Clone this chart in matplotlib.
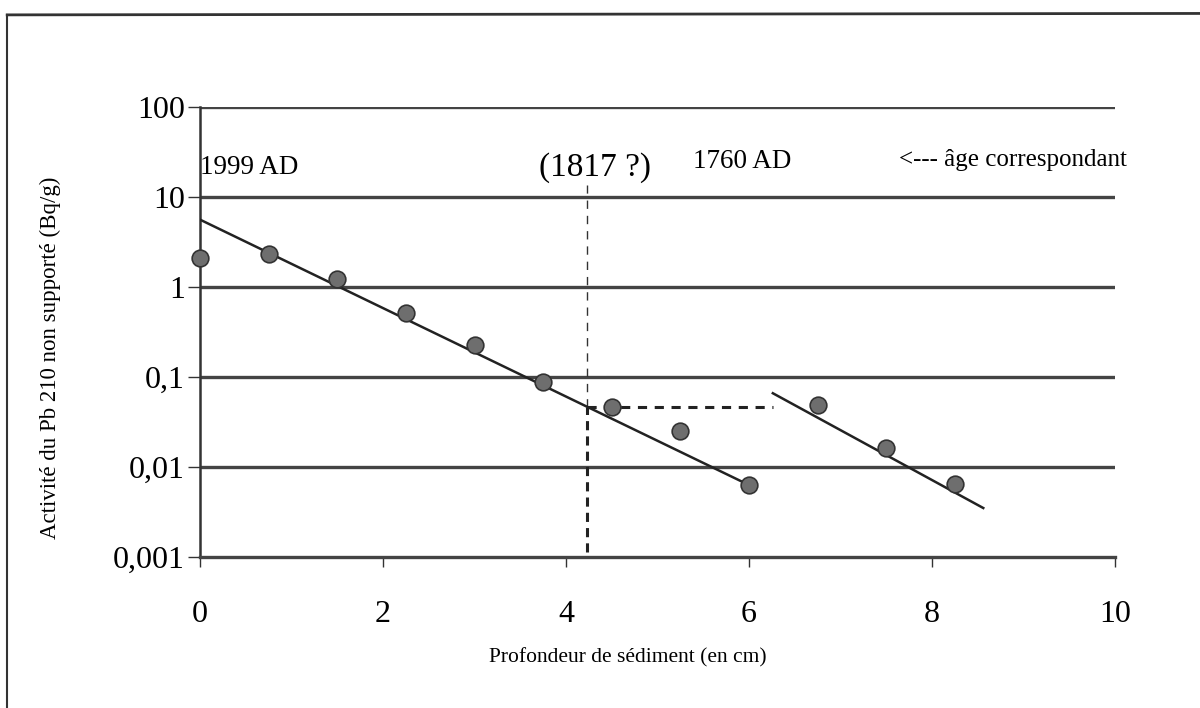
import numpy as np
import matplotlib.pyplot as plt
from matplotlib.lines import Line2D

plt.rc('font', family='Liberation Serif')

# depth (cm) and unsupported Pb-210 activity (Bq/g)
depth = [0.0, 0.75, 1.5, 2.25, 3.0, 3.75, 4.5, 5.25, 6.0, 6.75, 7.5, 8.25]
activity = [2.1, 2.33, 1.23, 0.51, 0.227, 0.088, 0.046, 0.025, 0.0063, 0.049, 0.0163, 0.0065]

# fitted lines (end points)
fit1_x = [0.0, 6.0]
fit1_y = [5.6, 0.0063]
fit2_x = [6.26, 8.56]
fit2_y = [0.066, 0.0035]

# dashed markers of the hiatus
hiatus_x = 4.23
hiatus_y = 0.046
hiatus_end = 6.26

fig = plt.figure(figsize=(12, 7.08), dpi=100)
ax = fig.add_axes([0.1667, 0.2133, 0.7625, 0.6356])

ax.set_yscale('log')
ax.set_xlim(0, 10)
ax.set_ylim(0.001, 100)

yt = [0.001, 0.01, 0.1, 1, 10, 100]
ax.set_yticks(yt)
ax.set_yticklabels(['0,001', '0,01', '0,1', '1', '10', '100'])
ax.yaxis.set_minor_locator(plt.NullLocator())
ax.set_xticks([0, 2, 4, 6, 8, 10])
ax.set_xticklabels(['0', '2', '4', '6', '8', '10'])
ax.tick_params(axis='both', labelsize=23, width=1.0, color='#333333')
ax.tick_params(axis='y', length=9, pad=2)
ax.tick_params(axis='x', length=7, pad=24)

for v in yt[1:]:
    ax.axhline(v, color='#444444', lw=2.4, zorder=1)

for s in ['top', 'right']:
    ax.spines[s].set_visible(False)
ax.spines['left'].set_linewidth(1.8)
ax.spines['bottom'].set_linewidth(2.4)
ax.spines['left'].set_color('#333333')
ax.spines['bottom'].set_color('#444444')

ax.plot(fit1_x, fit1_y, color='#222222', lw=1.8, zorder=3)
ax.plot(fit2_x, fit2_y, color='#222222', lw=1.8, zorder=3)

# vertical dashed line: thin above, thick below
ax.plot([hiatus_x, hiatus_x], [hiatus_y, 13.6], color='#333333', lw=1.0,
        linestyle=(0, (6, 5)), zorder=2, clip_on=False)
ax.plot([hiatus_x, hiatus_x], [0.00115, hiatus_y], color='#222222', lw=2.2,
        linestyle=(0, (3, 2)), zorder=2)
ax.plot([hiatus_x, hiatus_end], [hiatus_y, hiatus_y], color='#222222', lw=2.2,
        linestyle=(0, (3, 2.5)), zorder=2)

ax.plot(depth, activity, 'o', ms=12, mfc='#6e6e6e', mec='#333333', mew=1.2,
        zorder=4, clip_on=False)

ax.text(0.0, 21.5, '1999 AD', fontsize=19.5, va='center', ha='left')
ax.text(4.32, 21, '(1817 ?)', fontsize=24, va='center', ha='center')
ax.text(5.39, 24.5, '1760 AD', fontsize=19.5, va='center', ha='left')
ax.text(7.64, 25.7, '<--- âge correspondant', fontsize=18, va='center', ha='left',
        clip_on=False)

ax.set_xlabel('Profondeur de sédiment (en cm)', fontsize=15.5)
ax.xaxis.set_label_coords(0.468, -0.224)
ax.set_ylabel('Activité du Pb 210 non supporté (Bq/g)', fontsize=16.5)
ax.yaxis.set_label_coords(-0.164, 0.442)
ax.xaxis.label.set_va('center')
ax.yaxis.label.set_va('center')

# scanned frame around the figure
fig.add_artist(Line2D([0.006, 1.0], [0.979, 0.981], color='#333333', lw=2.0))
fig.add_artist(Line2D([0.006, 0.006], [0.0, 0.979], color='#333333', lw=1.5))

fig.savefig('out.png', dpi=100)
